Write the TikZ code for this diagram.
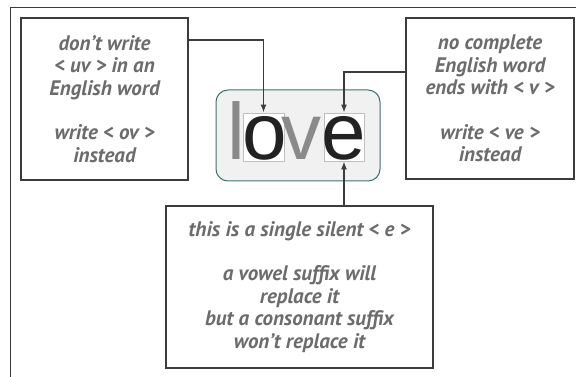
\documentclass[tikz,border=0pt]{standalone}
\usepackage{fontspec}
\setmainfont{PT Sans}
\newfontfamily\letterfont{Liberation Sans}
\usetikzlibrary{arrows.meta}

\definecolor{frame}{HTML}{3C3C3C}
\definecolor{note}{HTML}{6C6C6C}
\definecolor{teal}{HTML}{3E7272}
\definecolor{panel}{HTML}{F1F1F1}
\definecolor{faint}{HTML}{8A8A8A}
\definecolor{ink}{HTML}{222222}

\begin{document}
\begin{tikzpicture}[x=1pt, y=1pt,
  notebox/.style={draw=frame, line width=1.6pt, fill=white, align=center,
    font=\itshape\bfseries\fontsize{21}{22.5}\selectfont, text=note},
  letterbox/.style={draw=black!25, line width=0.8pt, fill=white, inner sep=0pt},
  letter/.style={anchor=base, inner sep=0pt, font=\letterfont\fontsize{80}{80}\selectfont},
  pointer/.style={draw=frame, line width=1.5pt, -{Latex[length=8pt, width=6pt]}}]

\useasboundingbox (0,0) rectangle (576,-377);

% Outer frame, running off the page
\draw[frame, line width=1.6pt] (10.5,-377) -- (10.5,-7.5) -- (576,-7.5);

% The word, in its panel
\node[draw=teal, line width=1pt, fill=panel, rounded corners=12pt,
  minimum width=164pt, minimum height=91pt] (word) at (298,-135.5) {};

\node[letterbox, minimum width=41pt, minimum height=48pt] (obox) at (263.5,-137) {};
\node[letterbox, minimum width=40pt, minimum height=48pt] (ebox) at (344,-137) {};

\node[letter, text=faint] (l) at (236,-160) {l};
\node[letter, text=ink] (o) at (265,-160) {o};
\node[letter, text=faint] (v) at (301.5,-160) {v};
\node[letter, text=ink] (e) at (344,-160) {e};

% Notes round the word
\node[notebox, minimum width=167pt, minimum height=162pt] (uv) at (104.5,-99)
  {don’t write\\< uv > in an\\English word\\[22pt]write < ov >\\instead};
\node[notebox, minimum width=168pt, minimum height=161pt] (ve) at (490,-98.5)
  {no complete\\English word\\ends with < v >\\[22pt]write < ve >\\instead};
\node[notebox, minimum width=267pt, minimum height=162pt] (silent) at (299.5,-287)
  {this is a single silent < e >\\[22pt]a vowel suffix will\\replace it\\but a consonant suffix\\won’t replace it};

% Pointers to the letters
\draw[pointer] ([yshift=59pt]uv.east) -| (obox.north);
\draw[pointer] ([yshift=26.5pt]ve.west) -| (ebox.north);
\draw[pointer] (silent.north -| ebox.south) -- (ebox.south);

\end{tikzpicture}
\end{document}
